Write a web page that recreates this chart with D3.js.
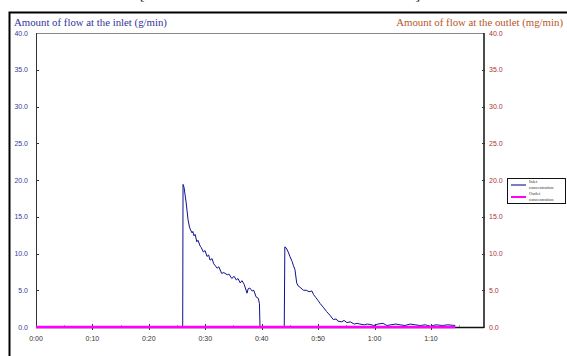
<!DOCTYPE html>
<html>
<head>
<meta charset="utf-8">
<script src="https://cdn.jsdelivr.net/npm/d3@7"></script>
<style>
  body { margin: 0; background: #fff; }
  svg { display: block; }
</style>
</head>
<body>
<div id="chart"></div>
<script>
// time in minutes, inlet values in g/min
var inletTime = [0, 26.0, 26.06, 26.24, 26.6, 26.95, 27.2, 27.4, 27.66, 27.8, 28.0, 28.2, 28.5, 28.7, 29.1, 29.3,
  29.66, 29.96, 30.3, 30.6, 30.85, 31.2, 31.5, 31.7, 32.1, 32.4, 32.9, 33.3, 33.9, 34.2, 34.7, 35.1, 35.5,
  35.8, 36.2, 36.5, 36.9, 37.4, 37.6, 37.9, 38.3, 38.6, 39.0, 39.4, 39.6, 39.7, 44.0, 44.1, 44.3, 44.7,
  45.0, 45.4, 45.6, 45.9, 46.2, 46.45, 46.8, 47.4, 47.9, 48.4, 48.9, 49.2, 49.6, 50.0, 50.35, 50.9, 51.5,
  52.1, 52.7, 53.2, 53.5, 54.2, 54.6, 55.1, 55.7, 56.4, 56.9, 57.4, 58.2, 58.7, 59.2, 59.9, 60.6, 61.5,
  62.2, 62.9, 63.8, 64.5, 65.4, 66.3, 67.2, 68.1, 69.0, 69.9, 70.9, 72.0, 73.0, 74.3];
var inletValue = [0, 0, 19.4, 19.0, 17.0, 14.6, 13.6, 13.2, 12.8, 13.0, 12.4, 12.6, 11.6, 11.8, 11.0, 10.8,
  10.2, 10.4, 9.6, 9.8, 9.1, 9.3, 8.6, 8.4, 8.0, 8.2, 7.3, 7.4, 7.1, 7.2, 6.6, 6.9, 6.4,
  6.6, 6.0, 6.3, 5.8, 4.6, 5.2, 5.3, 4.9, 5.0, 4.1, 3.9, 3.2, 0, 0, 10.9, 10.8, 10.2,
  9.6, 8.9, 8.4, 7.8, 6.0, 5.6, 5.4, 5.0, 5.0, 4.8, 4.9, 4.4, 4.0, 3.6, 3.2, 2.7, 2.1,
  1.6, 1.0, 1.1, 0.8, 0.7, 0.9, 0.6, 0.7, 0.4, 0.5, 0.4, 0.3, 0.4, 0.35, 0.2, 0.4, 0.5,
  0.2, 0.3, 0.4, 0.3, 0.2, 0.4, 0.3, 0.2, 0.3, 0.1, 0.3, 0.2, 0.3, 0.2];
// outlet stays at zero for the whole run (mg/min)
var outletTime = [0, 74.3];
var outletValue = [0, 0];

var yTicks = [0, 5, 10, 15, 20, 25, 30, 35, 40];
var xMajorTicks = [0, 10, 20, 30, 40, 50, 60, 70];
var xMinorTicks = [5, 15, 25, 35, 45, 55, 65, 75];
var legendLabels = [["Inlet", "concentration"], ["Outlet", "concentration"]];

var width = 567, height = 356;
var svg = d3.select('#chart').append('svg')
  .attr('width', width)
  .attr('height', height);

// plot box edges (careful: "top" is a browser global)
var pL = 36, pR = 484, pT = 33, pB = 327;

var x = d3.scaleLinear().domain([0, 79.4]).range([pL, pR]);
var yIn = d3.scaleLinear().domain([0, 40]).range([pB, pT]);
var yOut = d3.scaleLinear().domain([0, 40]).range([pB, pT]);

function fmtTime(m) {
  var h = Math.floor(m / 60), mm = m % 60;
  return h + ':' + (mm < 10 ? '0' : '') + mm;
}

// cropped heading above the frame, only the bracket tails show
svg.append('text')
  .attr('x', 280).attr('y', -1)
  .attr('text-anchor', 'middle')
  .style('font-family', 'Liberation Serif, serif')
  .style('font-size', '15px')
  .style('fill', '#222')
  .text('[ Inlet and outlet concentration of the column ]');

// outer frame
svg.append('rect')
  .attr('x', 9.5).attr('y', 12.5)
  .attr('width', 600).attr('height', 400)
  .style('fill', 'none')
  .style('stroke', '#000')
  .style('stroke-width', 2);

// titles
svg.append('text')
  .attr('x', 14).attr('y', 26)
  .style('font-family', 'Liberation Serif, serif')
  .style('font-size', '10.8px')
  .style('fill', '#33339a')
  .text('Amount of flow at the inlet (g/min)');
svg.append('text')
  .attr('x', 563).attr('y', 26)
  .attr('text-anchor', 'end')
  .style('font-family', 'Liberation Serif, serif')
  .style('font-size', '10.8px')
  .style('fill', '#b5562a')
  .text('Amount of flow at the outlet (mg/min)');

// plot frame
svg.append('line').attr('x1', pL).attr('x2', pR).attr('y1', pT + 0.5).attr('y2', pT + 0.5)
  .style('stroke', '#888').style('stroke-width', 1);
svg.append('line').attr('x1', pL + 0.5).attr('x2', pL + 0.5).attr('y1', pT).attr('y2', pB)
  .style('stroke', '#333').style('stroke-width', 1);
svg.append('line').attr('x1', pR).attr('x2', pR).attr('y1', pT).attr('y2', pB + 1)
  .style('stroke', '#111').style('stroke-width', 1.5);
svg.append('line').attr('x1', pL).attr('x2', pR).attr('y1', pB + 0.5).attr('y2', pB + 0.5)
  .style('stroke', '#111').style('stroke-width', 1.5);

// left axis labels + ticks
var g = svg.append('g');
g.selectAll('.yl').data(yTicks).enter().append('text')
  .attr('x', 28).attr('y', d => yIn(d) + 2.5)
  .attr('text-anchor', 'end')
  .style('font-family', 'Liberation Sans, Arial, sans-serif')
  .style('font-size', '7px')
  .style('fill', '#3a3a9a')
  .text(d => d.toFixed(1));
g.selectAll('.ylt').data(yTicks.slice(1, -1)).enter().append('line')
  .attr('x1', pL).attr('x2', pL + 3)
  .attr('y1', d => Math.round(yIn(d)) + 0.5).attr('y2', d => Math.round(yIn(d)) + 0.5)
  .style('stroke', '#333');

// right axis labels + ticks
g.selectAll('.yr').data(yTicks).enter().append('text')
  .attr('x', 489).attr('y', d => yOut(d) + 2.5)
  .style('font-family', 'Liberation Sans, Arial, sans-serif')
  .style('font-size', '7px')
  .style('fill', '#a83434')
  .text(d => d.toFixed(1));
g.selectAll('.yrt').data(yTicks.slice(1, -1)).enter().append('line')
  .attr('x1', pR - 2).attr('x2', pR + 1)
  .attr('y1', d => Math.round(yOut(d)) + 0.5).attr('y2', d => Math.round(yOut(d)) + 0.5)
  .style('stroke', '#333');

// x axis
g.selectAll('.xl').data(xMajorTicks).enter().append('text')
  .attr('x', d => x(d)).attr('y', 341)
  .attr('text-anchor', 'middle')
  .style('font-family', 'Liberation Sans, Arial, sans-serif')
  .style('font-size', '7px')
  .style('fill', '#333')
  .text(fmtTime);
g.selectAll('.xt').data(xMajorTicks.slice(1)).enter().append('line')
  .attr('x1', d => Math.round(x(d)) + 0.5).attr('x2', d => Math.round(x(d)) + 0.5)
  .attr('y1', pB - 3).attr('y2', pB + 3)
  .style('stroke', '#333');
g.selectAll('.xm').data(xMinorTicks).enter().append('line')
  .attr('x1', d => Math.round(x(d)) + 0.5).attr('x2', d => Math.round(x(d)) + 0.5)
  .attr('y1', pB - 2).attr('y2', pB)
  .style('stroke', '#999');

// series
var inletLine = d3.line()
  .x((d, i) => x(inletTime[i]))
  .y(d => yIn(d));
var outletLine = d3.line()
  .x((d, i) => x(outletTime[i]))
  .y(d => yOut(d));

svg.append('path')
  .datum(inletValue)
  .attr('d', inletLine)
  .style('fill', 'none')
  .style('stroke', '#101090')
  .style('stroke-width', 1);

svg.append('path')
  .datum(outletValue)
  .attr('d', outletLine)
  .style('fill', 'none')
  .style('stroke', '#ff00ff')
  .style('stroke-width', 2.5);

// legend
var leg = svg.append('g');
leg.append('rect')
  .attr('x', 507.5).attr('y', 178.5)
  .attr('width', 58).attr('height', 25)
  .style('fill', '#fff')
  .style('stroke', '#111')
  .style('stroke-width', 1);
var legColors = ['#7b7bc8', '#ff00ff'];
legendLabels.forEach(function (lab, i) {
  var yy = 185 + i * 12;
  leg.append('line')
    .attr('x1', 511).attr('x2', 526)
    .attr('y1', yy).attr('y2', yy)
    .style('stroke', legColors[i])
    .style('stroke-width', 2);
  lab.forEach(function (t, j) {
    leg.append('text')
      .attr('x', 529).attr('y', yy - 2.5 + j * 6)
      .style('font-family', 'Liberation Serif, serif')
      .style('font-size', '4.5px')
      .style('fill', '#333')
      .text(t);
  });
});
</script>
</body>
</html>
